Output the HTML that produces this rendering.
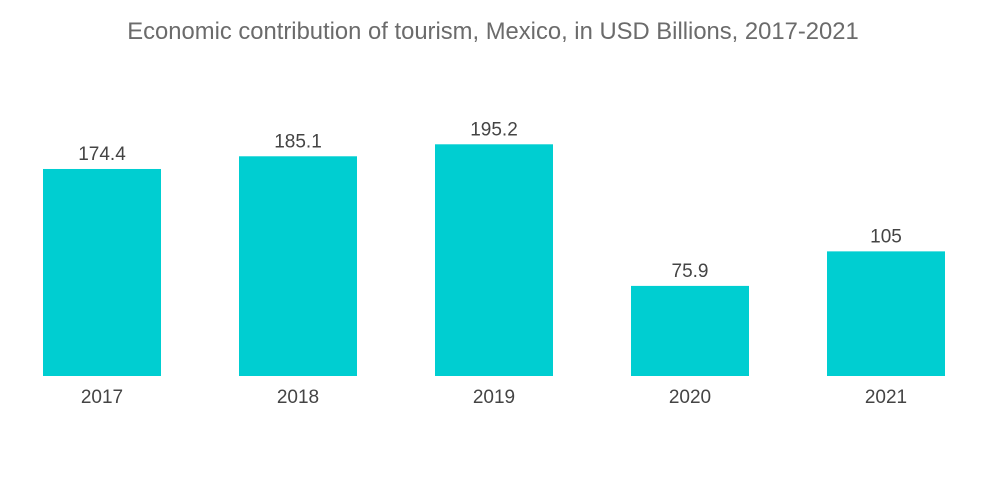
<!DOCTYPE html>
<html><head><meta charset="utf-8"><style>
body{margin:0;background:#fff;}
svg{display:block;font-family:"Liberation Sans",sans-serif;}
</style></head><body>
<svg id="chart" width="1000" height="504">
<text x="493" y="39" text-anchor="middle" font-size="23.8" fill="#6b6b6b">Economic contribution of tourism, Mexico, in USD Billions, 2017-2021</text>
<g id="bars"></g>
</svg>
<script>
const categories=["2017","2018","2019","2020","2021"];
const values=[174.4,185.1,195.2,75.9,105];
const labels=["174.4","185.1","195.2","75.9","105"];
const baseY=376, pxPer=1.187, x0=102, step=196, bw=118;
const yScale=v=>baseY-v*pxPer;
const xScale=i=>x0+i*step;
const g=document.getElementById('bars');
const ns="http://www.w3.org/2000/svg";
categories.forEach((c,i)=>{
  const r=document.createElementNS(ns,'rect');
  r.setAttribute('x',xScale(i)-bw/2);r.setAttribute('y',yScale(values[i]));
  r.setAttribute('width',bw);r.setAttribute('height',baseY-yScale(values[i]));
  r.setAttribute('fill','#00ced1');
  
  
  g.appendChild(r);
  const t=document.createElementNS(ns,'text');
  t.setAttribute('x',xScale(i));t.setAttribute('y',yScale(values[i])-9);
  t.setAttribute('text-anchor','middle');t.setAttribute('font-size','19');t.setAttribute('fill','#444');
  t.textContent=labels[i];
  
  
  g.appendChild(t);
  const a=document.createElementNS(ns,'text');
  a.setAttribute('x',xScale(i));a.setAttribute('y',403);
  a.setAttribute('text-anchor','middle');a.setAttribute('font-size','19');a.setAttribute('fill','#444');
  a.textContent=c;
  
  
  g.appendChild(a);
});
</script>
</body></html>
